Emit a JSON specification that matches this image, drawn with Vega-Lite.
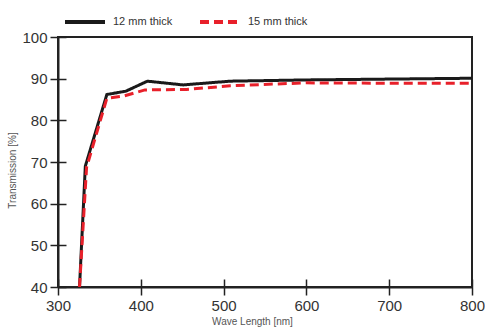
{
  "$schema": "https://vega.github.io/schema/vega-lite/v6.json",
  "autosize": "none",
  "width": 414,
  "height": 250,
  "padding": {"left": 58, "top": 37, "right": 13, "bottom": 40},
  "background": "white",
  "config": {
    "view": {"stroke": "#222", "strokeWidth": 2},
    "font": "Liberation Sans"
  },
  "data": {
    "values": [
      {"wl": 326, "t": 40, "s": "12 mm thick"},
      {"wl": 333, "t": 69, "s": "12 mm thick"},
      {"wl": 359, "t": 86.2, "s": "12 mm thick"},
      {"wl": 382, "t": 87, "s": "12 mm thick"},
      {"wl": 408, "t": 89.4, "s": "12 mm thick"},
      {"wl": 451, "t": 88.5, "s": "12 mm thick"},
      {"wl": 508, "t": 89.4, "s": "12 mm thick"},
      {"wl": 600, "t": 89.7, "s": "12 mm thick"},
      {"wl": 700, "t": 89.9, "s": "12 mm thick"},
      {"wl": 800, "t": 90.1, "s": "12 mm thick"},
      {"wl": 326, "t": 40, "s": "15 mm thick"},
      {"wl": 334.5, "t": 68.7, "s": "15 mm thick"},
      {"wl": 359, "t": 85.3, "s": "15 mm thick"},
      {"wl": 379, "t": 85.8, "s": "15 mm thick"},
      {"wl": 405, "t": 87.3, "s": "15 mm thick"},
      {"wl": 455, "t": 87.4, "s": "15 mm thick"},
      {"wl": 508, "t": 88.3, "s": "15 mm thick"},
      {"wl": 600, "t": 89.0, "s": "15 mm thick"},
      {"wl": 700, "t": 88.9, "s": "15 mm thick"},
      {"wl": 800, "t": 88.9, "s": "15 mm thick"}
    ]
  },
  "layer": [
    {
      "mark": {"type": "line", "opacity": 0},
      "encoding": {
        "x": {"field": "wl", "type": "quantitative", "scale": {"domain": [300, 800], "nice": false},
          "axis": {"orient": "bottom", "values": [300, 400, 500, 600, 700, 800], "tickSize": -8, "tickWidth": 1.5, "tickColor": "#222", "labels": false, "domain": false, "grid": false, "title": null}},
        "y": {"field": "t", "type": "quantitative", "scale": {"domain": [40, 100], "nice": false},
          "axis": {"orient": "left", "values": [40, 50, 60, 70, 80, 90, 100], "tickSize": -8, "tickWidth": 1.5, "tickColor": "#222", "labels": false, "domain": false, "grid": false, "title": null}},
        "detail": {"field": "s"}
      }
    },
    {
      "mark": {"type": "line", "strokeWidth": 3},
      "encoding": {
        "x": {"field": "wl", "type": "quantitative", "scale": {"domain": [300, 800], "nice": false},
          "axis": {"orient": "bottom", "values": [300, 400, 500, 600, 700, 800], "tickSize": 8, "tickWidth": 1.5, "tickColor": "#222", "domainColor": "#222", "domainWidth": 2, "labelFontSize": 15, "labelColor": "#333", "labelPadding": 3, "labelFlush": false, "labelOverlap": false, "grid": false, "title": "Wave Length [nm]", "titleFontSize": 10, "titleFontWeight": "normal", "titleColor": "#555", "titlePadding": 0, "titleX": 194, "titleY": 29}},
        "y": {"field": "t", "type": "quantitative", "scale": {"domain": [40, 100], "nice": false},
          "axis": {"orient": "left", "values": [40, 50, 60, 70, 80, 90, 100], "tickSize": 8, "tickWidth": 1.5, "tickColor": "#222", "domainColor": "#222", "domainWidth": 2, "labelFontSize": 15, "labelColor": "#333", "labelPadding": 3, "labelFlush": false, "labelOverlap": false, "grid": false, "title": "Transmission [%]", "titleFontSize": 10, "titleFontWeight": "normal", "titleColor": "#555", "titleX": -41, "titleY": 133}},
        "color": {"field": "s", "type": "nominal", "scale": {"domain": ["12 mm thick", "15 mm thick"], "range": ["#1a1a1a", "#e8202a"]},
          "legend": {"orient": "top", "offset": 2, "padding": 5, "direction": "horizontal", "title": null, "symbolType": "stroke", "symbolSize": 1600, "symbolStrokeWidth": 4, "labelFontSize": 11, "labelColor": "#333", "columnPadding": 19, "labelOffset": 6}},
        "strokeDash": {"field": "s", "type": "nominal", "scale": {"domain": ["12 mm thick", "15 mm thick"], "range": [[1, 0], [9, 5]]}, "legend": null}
      }
    }
  ],
  "resolve": {"axis": {"x": "independent", "y": "independent"}}
}
